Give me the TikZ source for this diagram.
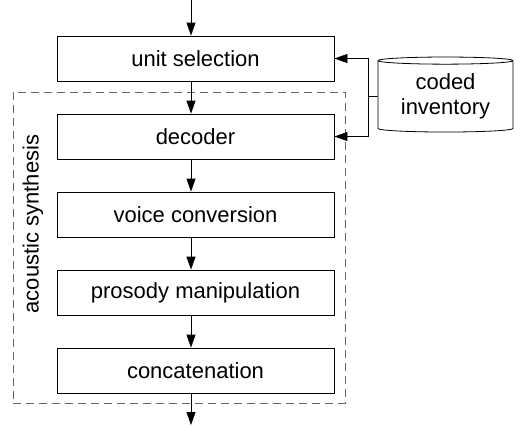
\documentclass[tikz,border=0pt]{standalone}
\usepackage{fontspec}
\setmainfont{Liberation Sans}
\usetikzlibrary{arrows.meta,shapes.geometric}

\begin{document}
\begin{tikzpicture}[x=0.5pt,y=-0.5pt,
    font=\fontsize{11}{12.5}\selectfont,
    block/.style={draw,minimum width=138.5pt,minimum height=22.5pt,inner sep=0pt},
    flow/.style={-{Triangle[length=6.5pt,width=4.5pt]}},
    frame/.style={draw,black!60,dash pattern=on 4pt off 2.5pt,minimum width=166pt,minimum height=155.5pt}]
  \useasboundingbox (0,0) rectangle (529,425);
  \node[frame] (synth) at (179,247.5) {};
  \node[rotate=90] (synthlabel) at (33,224) {acoustic synthesis};
  \foreach \i [count=\n] in {unit selection,decoder,voice conversion,prosody manipulation,concatenation}
    \node[block] (B\n) at (195.5,{58.5+78*(\n-1)}) {\i};
  \node[cylinder,draw,shape border rotate=90,aspect=0.08,minimum width=67.5pt,minimum height=37.5pt,align=center,inner sep=0pt] (inv) at (445.5,96.5) {coded\\inventory};
  \coordinate (in) at (191,0);
  \coordinate (out) at (191,425);
  \coordinate (split) at (368,96.5);
  \draw[flow] (in) -- ([xshift=-2.25pt]B1.north);
  \foreach \a/\b in {1/2,2/3,3/4,4/5}
    \draw[flow] ([xshift=-2.25pt]B\a.south) -- ([xshift=-2.25pt]B\b.north);
  \draw[flow] ([xshift=-2.25pt]B5.south) -- (out);
  \draw (inv.west) -- (split);
  \draw[flow] (split) |- (B1.east);
  \draw[flow] (split) |- (B2.east);
\end{tikzpicture}
\end{document}
